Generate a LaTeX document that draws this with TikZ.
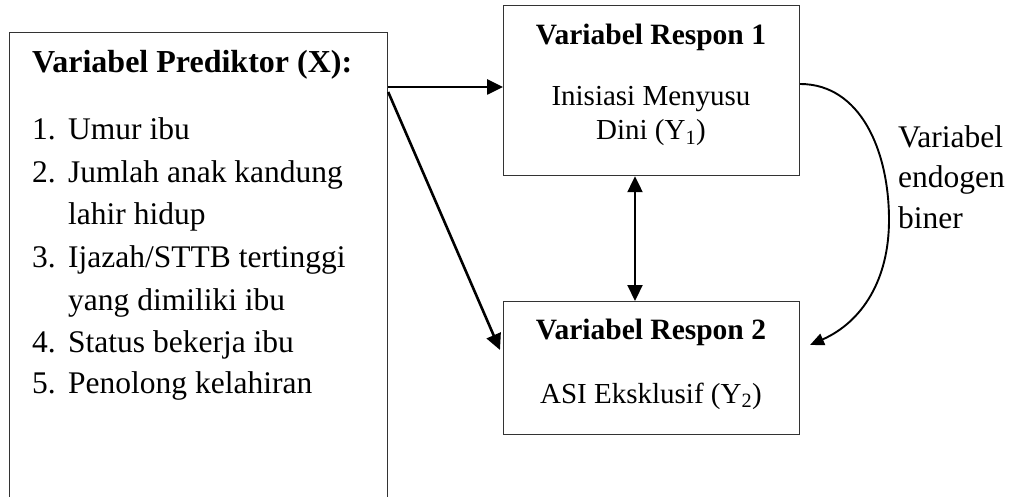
\documentclass[tikz,border=0pt]{standalone}
\usepackage{fontspec}
\setmainfont{Liberation Serif}
\usetikzlibrary{arrows.meta,calc}
\begin{document}
\begin{tikzpicture}[x=1pt,y=-1pt,
  box/.style={draw=black!80, line width=1.2pt, inner sep=0pt},
  txt/.style={anchor=base west, inner sep=0pt, font=\fontsize{31.5}{38}\selectfont},
  ttl/.style={anchor=base west, inner sep=0pt, font=\bfseries\fontsize{32}{38}\selectfont},
  ctxt/.style={anchor=base, inner sep=0pt, font=\fontsize{29}{35}\selectfont},
  cttl/.style={anchor=base, inner sep=0pt, font=\bfseries\fontsize{29.5}{35}\selectfont},
  arr/.style={line width=2.6pt, -{Triangle[length=16pt,width=15pt]}},
  dblarr/.style={line width=2.2pt, {Triangle[length=16pt,width=15pt]}-{Triangle[length=16pt,width=15pt]}},
  curvearr/.style={line width=1.9pt, -{Triangle[length=14pt,width=12pt]}}]
\useasboundingbox (0,0) rectangle (1014,497);
\clip (0,0) rectangle (1014,497);
% boxes
\node[box, anchor=north west, minimum width=378pt, minimum height=520pt] (pred) at (9,32) {};
\node[box, anchor=north west, minimum width=296pt, minimum height=170pt] (r1) at (503,5) {};
\node[box, anchor=north west, minimum width=296pt, minimum height=133pt] (r2) at (503,301) {};
% predictor text
\node[ttl] (ptitle) at (32,73) {Variabel Prediktor (X):};
\node[txt] (n1) at (32,140) {1.};
\node[txt] (i1) at (68,140) {Umur ibu};
\node[txt] (n2) at (32,183) {2.};
\node[txt] (i2a) at (68,183) {Jumlah anak kandung};
\node[txt] (i2b) at (68,225) {lahir hidup};
\node[txt] (n3) at (32,267) {3.};
\node[txt] (i3a) at (68,267) {Ijazah/STTB tertinggi};
\node[txt] (i3b) at (68,310) {yang dimiliki ibu};
\node[txt] (n4) at (32,352) {4.};
\node[txt] (i4) at (68,352) {Status bekerja ibu};
\node[txt] (n5) at (32,393) {5.};
\node[txt] (i5) at (68,393) {Penolong kelahiran};
% response 1
\node[cttl] (r1t) at (651,45) {Variabel Respon 1};
\node[ctxt] (r1a) at (651,106) {Inisiasi Menyusu};
\node[ctxt] (r1b) at (651,140) {Dini (Y\textsubscript{1})};
% response 2
\node[cttl] (r2t) at (651,339) {Variabel Respon 2};
\node[ctxt] (r2a) at (651,403) {ASI Eksklusif (Y\textsubscript{2})};
% label
\node[txt] (l1) at (898,148) {Variabel};
\node[txt] (l2) at (898,188) {endogen};
\node[txt] (l3) at (898,228) {biner};
% helper coordinates
\coordinate (yA) at (0,87);
\coordinate (yD) at (0,92);
\coordinate (xV) at (635,0);
\coordinate (yC) at (0,84);
\coordinate (dEnd) at (500,350);
\coordinate (cEnd) at (810,345);
% connectors
\draw[arr] (pred.east |- yA) -- (r1.west |- yA);
\draw[arr] (pred.east |- yD) -- (dEnd);
\draw[dblarr] (r1.south -| xV) -- (r2.north -| xV);
\draw[curvearr] (r1.east |- yC) .. controls (860,84) and (889,150) .. (889,220)
  .. controls (889,280) and (862,322) .. (cEnd);
\end{tikzpicture}
\end{document}
